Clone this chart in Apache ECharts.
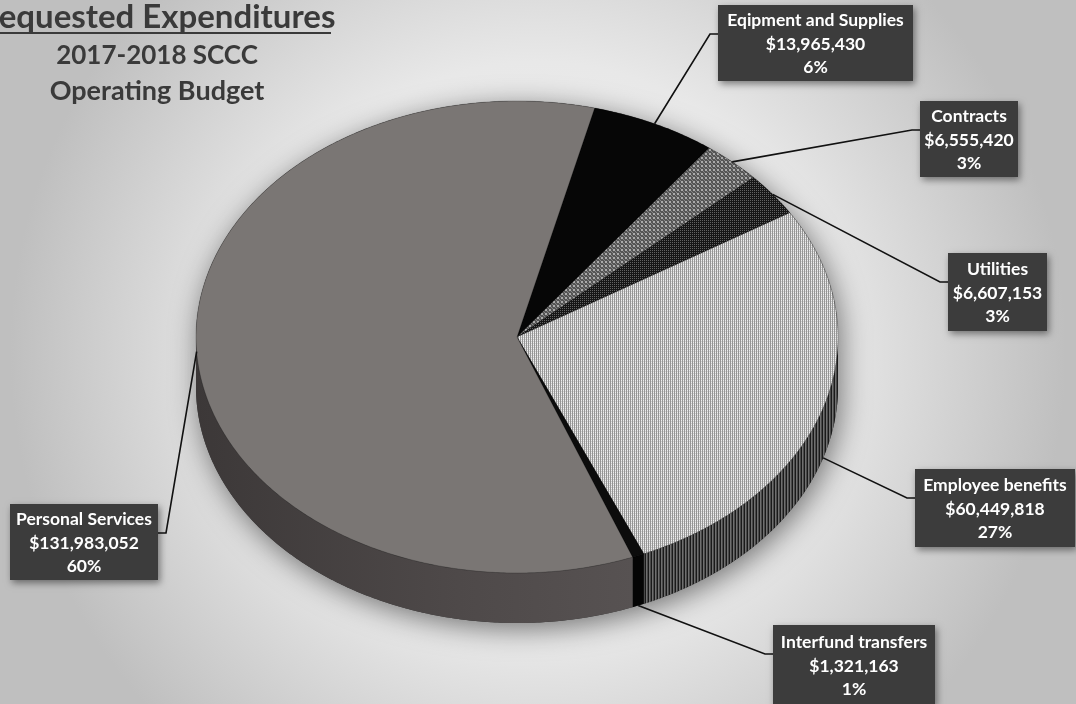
<!DOCTYPE html>
<html><head><meta charset="utf-8">
<script src="https://cdn.jsdelivr.net/npm/echarts@6/dist/echarts.min.js"></script>
<style>html,body{margin:0;padding:0;background:#ddd}#c{width:1076px;height:704px}</style>
</head><body><div id="c"></div>
<script>
// ---------- DATA ----------
const categories = ['Eqipment and Supplies', 'Contracts', 'Utilities', 'Employee benefits', 'Interfund transfers', 'Personal Services'];
const values = [13965430, 6555420, 6607153, 60449818, 1321163, 131983052];
const titleLines = ['Requested Expenditures', '2017-2018 SCCC', 'Operating Budget'];

// ---------- LAYOUT / STYLE ----------
const PIE = {cx: 517, cy: 337, rx: 321, ry: 236, depth: 50, start: 14};
const labelBoxes = [
  {x: 718, y: 5, w: 195, h: 76, drop: 0},
  {x: 920, y: 101, w: 98, h: 76, drop: 0},
  {x: 948, y: 253, w: 99, h: 78, drop: 0},
  {x: 915, y: 469, w: 160, h: 78, drop: 1},
  {x: 773, y: 625, w: 162, h: 80, drop: 1},
  {x: 10, y: 504, w: 148, h: 76, drop: 0}
];

function makePattern(w, h, draw) {
  const c = document.createElement('canvas');
  c.width = w; c.height = h;
  draw(c.getContext('2d'));
  return {image: c, repeat: 'repeat'};
}
const contractsPat = makePattern(4, 4, g => {
  g.fillStyle = '#555555'; g.fillRect(0, 0, 4, 4);
  g.fillStyle = '#aaaaaa'; g.fillRect(1, 1, 2, 2);
  g.fillStyle = '#858585'; g.fillRect(0, 0, 1, 1); g.fillRect(3, 3, 1, 1);
});
const utilitiesPat = makePattern(2, 2, g => {
  g.fillStyle = '#161616'; g.fillRect(0, 0, 2, 2);
  g.fillStyle = '#626262'; g.fillRect(0, 0, 1, 1);
});
const employeeTopPat = makePattern(2, 2, g => {
  g.fillStyle = '#eeeeee'; g.fillRect(0, 0, 2, 2);
  g.fillStyle = '#959595'; g.fillRect(0, 0, 1, 2);
  g.fillStyle = '#cfcfcf'; g.fillRect(1, 1, 1, 1);
});
const employeeSidePat = makePattern(3, 1, g => {
  g.fillStyle = '#4a4a4a'; g.fillRect(0, 0, 3, 1);
  g.fillStyle = '#1a1a1a'; g.fillRect(0, 0, 1, 1);
  g.fillStyle = '#707070'; g.fillRect(1, 0, 1, 1);
});
const topFills = ['#060606', contractsPat, utilitiesPat, employeeTopPat, '#0c0c0c', '#7a7674'];
const sideFills = ['#000', '#333', '#111', employeeSidePat, '#050505',
  {type: 'linear', x: 0, y: 0, x2: 1, y2: 0, colorStops: [
    {offset: 0, color: '#3c3838'}, {offset: 0.6, color: '#4e4949'}, {offset: 1, color: '#575252'}]}];

// ---------- GEOMETRY FROM DATA ----------
const total = values.reduce((a, b) => a + b, 0);
let acc = PIE.start;
const angles = values.map(v => { const a = acc; acc += v / total * 360; return [a, acc]; });
const rad = d => d * Math.PI / 180;
function P(t, dy) { return [PIE.cx + PIE.rx * Math.sin(rad(t)), PIE.cy - PIE.ry * Math.cos(rad(t)) + (dy || 0)]; }
function arc(t1, t2, dy) {
  const pts = []; const n = Math.max(2, Math.ceil(Math.abs(t2 - t1) / 0.5));
  for (let i = 0; i <= n; i++) pts.push(P(t1 + (t2 - t1) * i / n, dy));
  return pts;
}

function renderSide(params, api) {
  const i = params.dataIndex;
  const children = [];
  if (i === 0) {
    const sil = arc(-90, 90, 0).concat(arc(90, 270, PIE.depth));
    children.push({type: 'polygon', shape: {points: sil},
      style: {fill: '#333', shadowBlur: 28, shadowColor: 'rgba(0,0,0,0.5)', shadowOffsetX: 3, shadowOffsetY: 6}});
  }
  const a = Math.max(angles[i][0], 90), b = Math.min(angles[i][1], 270);
  if (b > a) {
    const pts = arc(a, b, 0).concat(arc(b, a, PIE.depth));
    children.push({type: 'polygon', shape: {points: pts}, style: {fill: sideFills[i]}});
  }
  return {type: 'group', children};
}
function renderTop(params, api) {
  const i = params.dataIndex;
  const pts = [[PIE.cx, PIE.cy]].concat(arc(angles[i][0], angles[i][1], 0));
  return {type: 'polygon', shape: {points: pts},
    style: {fill: topFills[i], stroke: 'rgba(0,0,0,0.35)', lineWidth: 0.6}};
}
function renderLabel(params, api) {
  const i = params.dataIndex;
  const b = labelBoxes[i];
  const mid = (angles[i][0] + angles[i][1]) / 2;
  const anchor = P(mid, b.drop * PIE.depth);
  const ay = b.y + 29;
  const toRight = (b.x + b.w / 2) > anchor[0];
  const ex = toRight ? b.x : b.x + b.w;
  const elbow = [toRight ? ex - 8 : ex + 8, ay];
  const pct = Math.round(values[i] / total * 100) + '%';
  const txt = categories[i] + '\n$' + values[i].toLocaleString('en-US') + '\n' + pct;
  return {type: 'group', children: [
    {type: 'polyline', shape: {points: [anchor, elbow, [ex, ay]]}, style: {stroke: '#111', lineWidth: 1.6, fill: null}},
    {type: 'rect', shape: {x: b.x, y: b.y, width: b.w, height: b.h},
      style: {fill: '#3c3c3c', shadowBlur: 7, shadowColor: 'rgba(0,0,0,0.45)', shadowOffsetX: 2, shadowOffsetY: 3}},
    {type: 'text', x: b.x + b.w / 2, y: b.y + b.h / 2 + 1,
      style: {text: txt, fill: '#ffffff', font: 'bold 17.5px Lato', align: 'center', verticalAlign: 'middle', lineHeight: 23.5}}
  ]};
}

const chart = echarts.init(document.getElementById('c'), null, {renderer: 'canvas'});
chart.setOption({
  animation: false,
  backgroundColor: {type: 'radial', x: 0.5, y: 0.5, r: 0.75, colorStops: [
    {offset: 0, color: '#f4f4f4'}, {offset: 0.55, color: '#e8e8e8'}, {offset: 1, color: '#bfbfbf'}]},
  graphic: [
    {type: 'text', x: 157, y: 17, style: {text: titleLines[0], font: 'bold 33px Lato', fill: '#3a3a3a', align: 'center', verticalAlign: 'middle'}},
    {type: 'line', shape: {x1: -20, y1: 33, x2: 331, y2: 33}, style: {stroke: '#3a3a3a', lineWidth: 2}},
    {type: 'text', x: 157, y: 56, style: {text: titleLines[1], font: 'bold 26px Lato', fill: '#3a3a3a', align: 'center', verticalAlign: 'middle'}},
    {type: 'text', x: 157, y: 91, style: {text: titleLines[2], font: 'bold 27px Lato', fill: '#3a3a3a', align: 'center', verticalAlign: 'middle'}}
  ],
  series: [
    {type: 'custom', coordinateSystem: 'none', silent: true, z: 1, data: values, renderItem: renderSide},
    {type: 'custom', coordinateSystem: 'none', silent: true, z: 2, data: values, renderItem: renderTop},
    {type: 'custom', coordinateSystem: 'none', silent: true, z: 3, data: values, renderItem: renderLabel}
  ]
});
</script></body></html>
